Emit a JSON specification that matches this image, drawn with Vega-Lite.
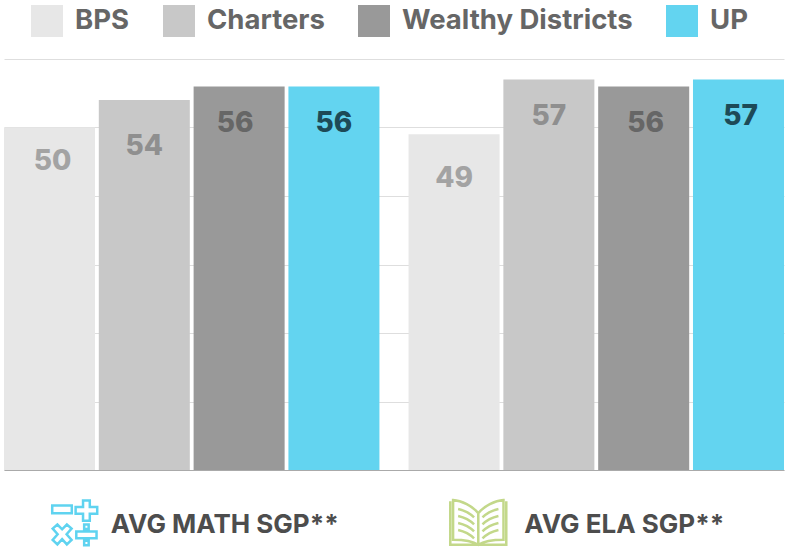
{
"$schema":"https://vega.github.io/schema/vega-lite/v6.json",
"autosize":"none","width":780,"height":411,
"padding":{"left":4,"top":59,"right":1,"bottom":79},
"background":"white",
"config":{"view":{"stroke":null},"font":"Inter"},
"data":{"values":[
{"group":"AVG MATH SGP**","series":"BPS","value":50},
{"group":"AVG MATH SGP**","series":"Charters","value":54},
{"group":"AVG MATH SGP**","series":"Wealthy Districts","value":56},
{"group":"AVG MATH SGP**","series":"UP","value":56},
{"group":"AVG ELA SGP**","series":"BPS","value":49},
{"group":"AVG ELA SGP**","series":"Charters","value":57},
{"group":"AVG ELA SGP**","series":"Wealthy Districts","value":56},
{"group":"AVG ELA SGP**","series":"UP","value":57}
]},
"encoding":{
"x":{"field":"group","type":"nominal","sort":["AVG MATH SGP**","AVG ELA SGP**"],"scale":{"paddingInner":0.072,"paddingOuter":0},
"axis":{"title":null,"ticks":false,"labelAngle":0,"domainColor":"#aaaaaa","domainWidth":1,"labelPadding":41,"labelFontSize":26,"labelFont":"Inter","labelFontWeight":700,"labelColor":"#4d4d4d","labelLimit":500,"labelOffset":{"expr":"datum.value=='AVG ELA SGP**'?28:33"}}},
"y":{"field":"value","type":"quantitative","scale":{"domain":[0,60],"nice":false},
"axis":{"title":null,"values":[0,10,20,30,40,50,60],"labels":false,"ticks":false,"domain":false,"grid":true,"gridColor":"#dedede","gridWidth":1}}
},
"layer":[
{"mark":{"type":"bar"},
"encoding":{
"xOffset":{"field":"series","type":"nominal","sort":["BPS","Charters","Wealthy Districts","UP"],"scale":{"paddingInner":0.04,"paddingOuter":0}},
"color":{"field":"series","type":"nominal","sort":["BPS","Charters","Wealthy Districts","UP"],
"scale":{"domain":["BPS","Charters","Wealthy Districts","UP"],"range":["#e7e7e7","#c8c8c8","#999999","#63d4f0"]},
"legend":{"title":null,"orient":"none","legendX":27,"legendY":-54,"direction":"horizontal","columns":4,"gridAlign":"none","symbolType":"square","symbolSize":1024,"symbolStrokeWidth":0,"symbolOpacity":1,"labelFont":"Inter","labelFontSize":27.5,"labelFontWeight":700,"labelColor":"#666666","labelOffset":12,"columnPadding":33,"labelLimit":400}}
}},
{"mark":{"type":"text","font":"Inter","fontSize":28,"fontWeight":800,"baseline":"middle",
"dy":{"expr":"datum.value==54?47:datum.value==49?45:datum.value==50?34:datum.value==57?37:38"},
"dx":{"expr":"datum.group=='AVG MATH SGP**'?(datum.series=='BPS'?3:datum.series=='Wealthy Districts'?-4:0):(datum.series=='Wealthy Districts'||datum.series=='UP'?2:0)"},
"fill":{"expr":"datum.series=='BPS'?'#a3a3a3':datum.series=='Charters'?'#8f8f8f':datum.series=='UP'?'#1d4a57':'#666666'"}},
"encoding":{
"xOffset":{"field":"series","type":"nominal","sort":["BPS","Charters","Wealthy Districts","UP"],"scale":{"paddingInner":0.04,"paddingOuter":0}},
"text":{"field":"value","type":"quantitative"}
}},
{"transform":[{"filter":"datum.group=='AVG MATH SGP**' && datum.series=='BPS'"}],
"mark":{"type":"point","filled":false,"clip":false,"fill":null,"stroke":"#5fd3f0","strokeWidth":2.5,"opacity":1,"size":2025,"xOffset":-117,"yOffset":53,
"shape":"M-1 -0.78H-0.13V-0.43H-1ZM0.37 -1H0.67V-0.71H1V-0.41H0.67V-0.1H0.37V-0.41H0.04V-0.71H0.37ZM-0.98 0.25L-0.77 0.07L-0.56 0.28L-0.35 0.07L-0.14 0.25L-0.36 0.5L-0.14 0.75L-0.35 0.95L-0.56 0.72L-0.77 0.95L-0.98 0.75L-0.76 0.5ZM0.07 0.38H0.97V0.68H0.07ZM0.42 0.07H0.62V0.27H0.42ZM0.42 0.79H0.62V0.99H0.42Z"},
"encoding":{"y":{"datum":0},"color":{"value":null}}},
{"transform":[{"filter":"datum.group=='AVG ELA SGP**' && datum.series=='BPS'"}],
"mark":{"type":"point","filled":false,"clip":false,"fill":null,"stroke":"#c3d88a","strokeWidth":2.5,"opacity":1,"size":3136,"xOffset":-118,"yOffset":53,
"shape":"M-1 -0.78V0.78H1V-0.78M-0.9 -0.82C-0.6 -0.8 -0.2 -0.6 0 -0.35C0.2 -0.6 0.6 -0.8 0.9 -0.82V0.6C0.5 0.6 0.2 0.65 0 0.78C-0.2 0.65 -0.5 0.6 -0.9 0.6ZM0 -0.35V0.78M-0.72 -0.5C-0.5 -0.45 -0.3 -0.35 -0.15 -0.2M-0.72 -0.25C-0.5 -0.2 -0.3 -0.1 -0.15 0.05M-0.72 0C-0.5 0.05 -0.3 0.15 -0.15 0.3M-0.72 0.25C-0.5 0.3 -0.3 0.4 -0.15 0.55M0.72 -0.5C0.5 -0.45 0.3 -0.35 0.15 -0.2M0.72 -0.25C0.5 -0.2 0.3 -0.1 0.15 0.05M0.72 0C0.5 0.05 0.3 0.15 0.15 0.3M0.72 0.25C0.5 0.3 0.3 0.4 0.15 0.55"},
"encoding":{"y":{"datum":0},"color":{"value":null}}}
]
}
